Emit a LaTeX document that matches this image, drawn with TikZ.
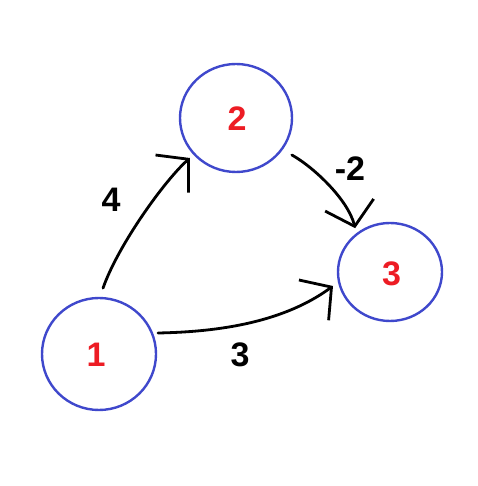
\documentclass[tikz,border=0pt]{standalone}
\usepackage{fontspec}
\setmainfont{Liberation Sans}
\usetikzlibrary{arrows.meta,calc,shapes.geometric}
\definecolor{nodeblue}{HTML}{3F48CC}
\definecolor{numred}{HTML}{ED1C24}
\tikzset{
  vertex/.style={ellipse,draw=nodeblue,line width=2.4pt,inner sep=0pt,
    text=numred,font=\fontsize{34}{34}\selectfont\bfseries},
  weight/.style={inner sep=0pt,text=black,font=\fontsize{34}{34}\selectfont\bfseries},
  arr/.style={line width=2.8pt,line cap=round,line join=round,
    -{Straight Barb[length=22pt,width=50pt,line width=2.8pt]}}
}
\begin{document}
\begin{tikzpicture}[x=1pt,y=1pt]
\useasboundingbox (0,0) rectangle (477,486);
\fill[white] (0,0) rectangle (477,486);
\node[vertex,minimum width=114pt,minimum height=112pt] (n1) at (99,132) {};
\node[vertex,minimum width=112pt,minimum height=108pt] (n2) at (236,368) {};
\node[vertex,minimum width=104pt,minimum height=98pt] (n3) at (390,214) {};
\node[vertex,draw=none] (t1) at (96,131) {1};
\node[vertex,draw=none] (t2) at (237,367.5) {2};
\node[vertex,draw=none] (t3) at (391.5,212.5) {3};
\node[weight] (w12) at (111,286) {4};
\node[weight] (w23) at (350,317) {-2};
\node[weight] (w13) at (240,131) {3};
\draw[arr] ($(n1)+(86.5:66)$) .. controls +(15,43) and +(-25,-22) .. ($(n2)+(221:61)$);
\draw[arr] ($(n2)+(-33.5:67)$) .. controls +(23,-13) and +(-7,28) .. ($(n3)+(128.5:56)$);
\draw[arr] ($(n1)+(19.6:62.6)$) .. controls +(52,1) and +(-53,-39) .. ($(n3)+(193.8:58.7)$);
\end{tikzpicture}
\end{document}
